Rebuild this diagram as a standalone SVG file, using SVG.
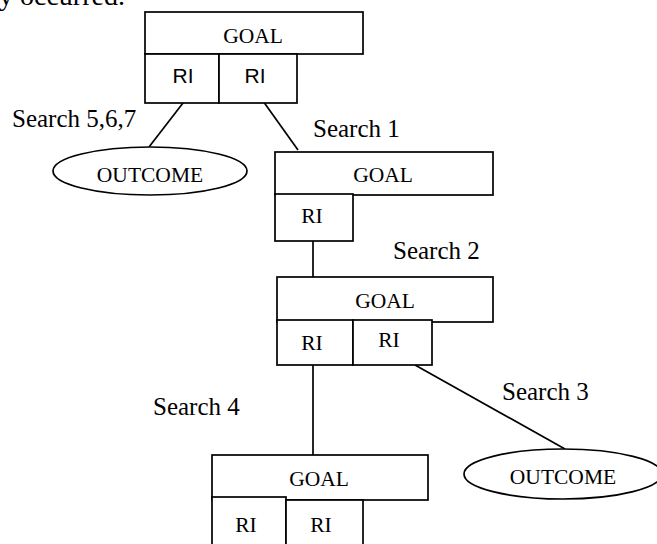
<svg xmlns="http://www.w3.org/2000/svg" width="657" height="544" viewBox="0 0 657 544">
<style>
.b{fill:#fff;stroke:#000;stroke-width:1.7}
.c line{stroke:#000;stroke-width:1.7}
.t{font-family:"Liberation Serif","Times New Roman",serif;font-size:21.5px;fill:#000;text-anchor:middle}
.s{font-family:"Liberation Sans",Arial,sans-serif;font-size:21px;fill:#000;text-anchor:middle}
.l{font-family:"Liberation Serif","Times New Roman",serif;font-size:25px;fill:#000}
</style>
<rect width="657" height="544" fill="#fff"/>
<text class="l" x="-1" y="5" style="font-size:28px">y occurred.</text>
<g id="connectors" class="c">
<line x1="183" y1="103" x2="149" y2="147"/>
<line x1="263" y1="101" x2="298" y2="150"/>
<line x1="313" y1="241" x2="313" y2="277"/>
<line x1="313" y1="365" x2="313" y2="455"/>
<line x1="415" y1="365" x2="565" y2="449"/>
</g>
<g id="labels">
<text class="l" x="12" y="127">Search 5,6,7</text>
<text class="l" x="313" y="137">Search 1</text>
<text class="l" x="393" y="259">Search 2</text>
<text class="l" x="153" y="415">Search 4</text>
<text class="l" x="502" y="400">Search 3</text>
</g>
<g id="node1">
<rect class="b" x="145" y="12" width="218" height="42"/>
<rect class="b" x="145" y="54" width="74" height="49"/>
<rect class="b" x="219" y="54" width="78" height="49"/>
<text class="t" x="253" y="43">GOAL</text>
<text class="s" x="183" y="83">RI</text>
<text class="s" x="255" y="83">RI</text>
</g>
<g id="outcome1">
<ellipse class="b" cx="150" cy="171" rx="97" ry="24"/>
<text class="t" x="150" y="182">OUTCOME</text>
</g>
<g id="node2">
<rect class="b" x="275" y="152" width="218" height="43"/>
<rect class="b" x="275" y="194" width="78" height="47"/>
<text class="t" x="383" y="182">GOAL</text>
<text class="t" x="312" y="223">RI</text>
</g>
<g id="node3">
<rect class="b" x="277" y="277" width="216" height="45"/>
<rect class="b" x="277" y="320" width="76" height="45"/>
<rect class="b" x="353" y="320" width="79" height="45"/>
<text class="t" x="385" y="308">GOAL</text>
<text class="t" x="312" y="350">RI</text>
<text class="t" x="389" y="347">RI</text>
</g>
<g id="outcome2">
<ellipse class="b" cx="563" cy="474" rx="99" ry="25"/>
<text class="t" x="563" y="484">OUTCOME</text>
</g>
<g id="node4">
<rect class="b" x="212" y="455" width="216" height="45"/>
<rect class="b" x="212" y="497" width="74" height="52"/>
<rect class="b" x="286" y="500" width="77" height="49"/>
<text class="t" x="319" y="486">GOAL</text>
<text class="t" x="246" y="532">RI</text>
<text class="t" x="321" y="532">RI</text>
</g>
</svg>
